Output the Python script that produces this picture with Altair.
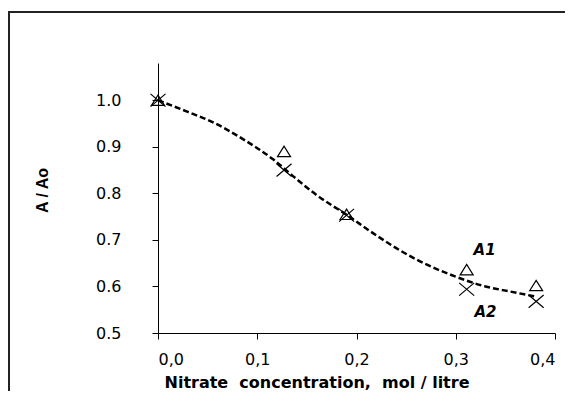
import altair as alt
import pandas as pd

# Data
conc = [0.0, 0.127, 0.19, 0.311, 0.381]
a1 = [1.0, 0.890, 0.755, 0.636, 0.602]
a2 = [1.0, 0.850, 0.753, 0.594, 0.568]

# dashed trend curve
curve_x = [0.0, 0.03, 0.056, 0.086, 0.116, 0.136, 0.16, 0.19, 0.217, 0.245, 0.264, 0.30, 0.33, 0.355, 0.381]
curve_y = [1.0, 0.975, 0.952, 0.916, 0.873, 0.837, 0.796, 0.754, 0.714, 0.676, 0.654, 0.621, 0.600, 0.589, 0.578]

labels = ["A1", "A2"]
label_x = [0.329, 0.330]
label_y = [0.679, 0.546]

x_ticks = [0.0, 0.1, 0.2, 0.3, 0.4]
y_ticks = [0.5, 0.6, 0.7, 0.8, 0.9, 1.0]

pts1 = pd.DataFrame({"x": conc, "y": a1})
pts2 = pd.DataFrame({"x": conc, "y": a2})
curve = pd.DataFrame({"x": curve_x, "y": curve_y})
lab = pd.DataFrame({"x": label_x, "y": label_y, "t": labels})
one = pd.DataFrame({"a": [0]})

NB = "\u00a0"
xtitle = f"Nitrate{NB}{NB}concentration,{NB}{NB}mol{NB}/{NB}litre"

xscale = alt.Scale(domain=[0, 0.4], nice=False, zero=False)
yscale = alt.Scale(domain=[0.5, 1.08], nice=False, zero=False)

xenc = alt.X(
    "x:Q",
    scale=xscale,
    axis=alt.Axis(
        values=x_ticks,
        labelExpr="replace(format(datum.value, '.1f'), '.', ',')",
        title=xtitle,
        titleFont="DejaVu Sans",
        titleFontSize=16,
        titleFontWeight="bold",
        titleX=158.5,
        titleY=54,
        titleAlign="center",
        titleBaseline="alphabetic",
        labelPadding=12,
    ),
)
yenc = alt.Y(
    "y:Q",
    scale=yscale,
    axis=alt.Axis(
        values=y_ticks,
        format=".1f",
        title="A / Ao",
        titleFont="Liberation Sans",
        titleFontSize=16,
        titleFontWeight="bold",
        titleAngle=270,
        titleX=-116,
        titleY=127,
        titleAlign="center",
        titleBaseline="middle",
        labelPadding=31,
    ),
)

line = alt.Chart(curve).mark_line(
    color="black", strokeWidth=2.5, strokeDash=[6, 3], interpolate="monotone"
).encode(x=xenc, y=yenc)

tri = alt.Chart(pts1).mark_point(
    shape="M-1,0.8L0,-0.8L1,0.8Z", size=169, filled=False, color="black", strokeWidth=1.2, opacity=1
).encode(x="x:Q", y="y:Q")

cross = alt.Chart(pts2).mark_point(
    shape="M-1,-0.85L1,0.85M1,-0.85L-1,0.85", size=225, filled=False, color="black", strokeWidth=1.2, opacity=1
).encode(x="x:Q", y="y:Q")

text = alt.Chart(lab).mark_text(
    font="DejaVu Sans", fontSize=15, fontWeight="bold", fontStyle="italic", color="black"
).encode(x="x:Q", y="y:Q", text="t:N")

frame_left = alt.Chart(one).mark_rule(color="#222222", strokeWidth=2).encode(
    x=alt.value(-149), y=alt.value(-51), y2=alt.value(345)
)
frame_top = alt.Chart(one).mark_rule(color="#222222", strokeWidth=2).encode(
    x=alt.value(-150), x2=alt.value(420), y=alt.value(-51)
)

chart = (
    alt.layer(line, tri, cross, text, frame_left, frame_top)
    .properties(
        width=397,
        height=270,
        autosize=alt.AutoSizeParams(type="none"),
        padding={"left": 150, "top": 55, "right": 10, "bottom": 58},
        background="white",
    )
    .configure_view(stroke=None)
    .configure_axis(
        grid=False,
        domainColor="black",
        domainWidth=1,
        tickColor="black",
        tickWidth=1,
        tickSize=6,
        labelColor="black",
        labelFont="DejaVu Sans",
        labelFontSize=16,
        titleColor="black",
    )
)

chart.save("out.html", embed_options={"renderer": "svg", "actions": False})
